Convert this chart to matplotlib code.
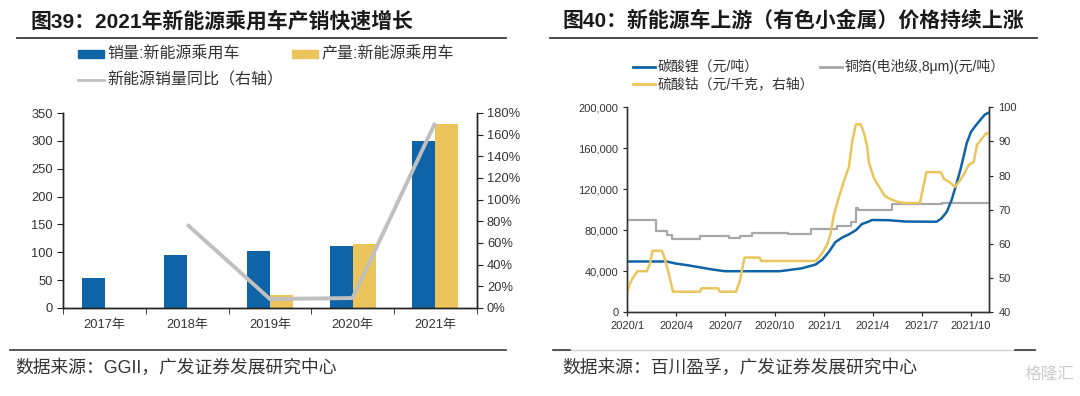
import numpy as np
import pandas as pd
import matplotlib
matplotlib.use('Agg')
import matplotlib.pyplot as plt
import matplotlib.dates as mdates
from matplotlib.lines import Line2D
from matplotlib.patches import Rectangle
from matplotlib.ticker import FuncFormatter, MultipleLocator, FixedLocator

plt.rcParams['font.family'] = ['Liberation Sans', 'Noto Sans CJK SC']

# ---- 图39 数据 ----
years = ['2017年', '2018年', '2019年', '2020年', '2021年']
sales = [54, 95, 102, 112, 300]             # 销量:新能源乘用车
output = [np.nan, np.nan, 24, 115, 331]     # 产量:新能源乘用车
sales_yoy = [np.nan, 77, 8.3, 9.2, 171]     # 新能源销量同比(%)

# ---- 图40 数据 ----
li_dates = ['2020-01-01', '2020-03-14', '2020-03-31', '2020-04-20', '2020-05-15', '2020-06-08',
            '2020-07-01', '2020-10-10', '2020-10-25', '2020-11-20', '2020-12-16', '2020-12-29',
            '2021-01-10', '2021-01-22', '2021-02-04', '2021-02-16', '2021-03-01', '2021-03-12',
            '2021-03-24', '2021-03-31', '2021-05-01', '2021-06-01', '2021-07-29', '2021-08-07',
            '2021-08-17', '2021-08-26', '2021-09-04', '2021-09-11', '2021-09-17', '2021-09-23',
            '2021-10-01', '2021-10-08', '2021-10-18', '2021-10-27', '2021-11-04']
li_price = [49500, 49500, 47500, 46000, 43800, 41600,
            40000, 40000, 41000, 42800, 46500, 51500,
            59000, 68500, 73000, 76000, 80000, 86000,
            88300, 90000, 89800, 88500, 88300, 91500,
            98000, 109500, 125500, 138500, 151500, 165000,
            176000, 181000, 187500, 193000, 195000]

cu_dates = ['2020-01-01', '2020-02-24', '2020-03-14', '2020-03-25', '2020-05-15', '2020-07-09',
            '2020-07-28', '2020-08-19', '2020-10-25', '2020-12-07', '2021-01-25', '2021-02-20',
            '2021-03-01', '2021-03-05', '2021-05-07', '2021-08-08', '2021-11-04']
cu_price = [89800, 79500, 75000, 71000, 74000, 72000,
            74500, 77000, 76000, 81000, 84000, 88500,
            102000, 100000, 105500, 106500, 106500]

co_dates = ['2020-01-01', '2020-01-05', '2020-01-11', '2020-01-20', '2020-02-06', '2020-02-12',
            '2020-02-17', '2020-03-05', '2020-03-09', '2020-03-17', '2020-03-26', '2020-05-15',
            '2020-05-18', '2020-06-18', '2020-06-21', '2020-07-21', '2020-07-28', '2020-08-06',
            '2020-09-03', '2020-09-06', '2020-12-16', '2020-12-22', '2020-12-29', '2021-01-07',
            '2021-01-13', '2021-01-19', '2021-01-28', '2021-02-07', '2021-02-16', '2021-02-22',
            '2021-03-01', '2021-03-10', '2021-03-16', '2021-03-22', '2021-03-25', '2021-04-03',
            '2021-04-12', '2021-04-24', '2021-05-06', '2021-05-18', '2021-05-30', '2021-06-28',
            '2021-07-04', '2021-07-10', '2021-08-06', '2021-08-12', '2021-08-23', '2021-09-01',
            '2021-09-11', '2021-09-20', '2021-09-26', '2021-10-06', '2021-10-12', '2021-10-22',
            '2021-10-30', '2021-11-04']
co_price = [45.8, 48.0, 50.0, 52.0, 52.0, 54.0,
            58.0, 58.0, 56.5, 52.0, 46.0, 46.0,
            47.0, 47.0, 46.0, 46.0, 49.0, 56.0,
            56.0, 55.0, 55.0, 56.0, 57.5, 60.0,
            63.0, 68.5, 73.5, 78.5, 82.5, 90.0,
            95.0, 95.0, 92.5, 88.5, 84.0, 79.5,
            77.0, 74.0, 73.0, 72.3, 72.0, 72.0,
            76.5, 81.0, 81.0, 79.0, 78.0, 76.7,
            78.7, 81.0, 83.0, 84.0, 89.0, 91.0,
            92.5, 92.0]

BLUE = '#0E64A6'
YELLOW = '#EBC55B'
GRAY = '#BFBFBF'
TXT = '#333333'

W, H = 1080, 396
fig = plt.figure(figsize=(W / 100, H / 100), dpi=100)


def fx(x):
    return x / W


def fy(y):
    return 1 - y / H


def hline(x1, x2, y, color, lw):
    fig.add_artist(Line2D([fx(x1), fx(x2)], [fy(y), fy(y)], color=color, lw=lw))


# ---------- 左图 ----------
fig.text(fx(30), fy(21), '图39：2021年新能源乘用车产销快速增长', fontsize=15, weight='bold',
         color='#1a1a1a', va='center', ha='left')
hline(17, 506, 38, '#3a3a3a', 1.3)

fig.add_artist(Rectangle((fx(78), fy(58)), fx(26), 8 / H, color=BLUE))
fig.text(fx(107), fy(54), '销量:新能源乘用车', fontsize=11.5, color=TXT, va='center')
fig.add_artist(Rectangle((fx(292), fy(58)), fx(26), 8 / H, color=YELLOW))
fig.text(fx(321), fy(54), '产量:新能源乘用车', fontsize=11.5, color=TXT, va='center')
hline(78, 104, 80, GRAY, 2)
fig.text(fx(107), fy(80), '新能源销量同比（右轴）', fontsize=11.5, color=TXT, va='center')

ax1 = fig.add_axes([fx(63.3), fy(308), fx(476.5 - 63.3), (308 - 113) / H])
x = np.arange(len(years))
bw = 0.278
ax1.bar(x - bw / 2, sales, bw, color=BLUE)
ax1.bar(x + bw / 2, output, bw, color=YELLOW)
ax1.set_xlim(-0.5, len(years) - 0.5)
ax1.set_ylim(0, 350)
ax1.yaxis.set_major_locator(MultipleLocator(50))
ax1.set_xticks(x)
ax1.set_xticklabels(years)
ax1.xaxis.set_minor_locator(FixedLocator(np.arange(-0.5, len(years), 1)))
ax1.tick_params(axis='x', which='major', length=0, pad=8, labelsize=9.3, colors=TXT)
ax1.tick_params(axis='x', which='minor', length=4, direction='out', color='#222222')
ax1.tick_params(axis='y', length=4, labelsize=9.3, colors=TXT, color='#222222')
ax1.spines['top'].set_visible(False)

ax1b = ax1.twinx()
ax1b.plot(x, sales_yoy, color=GRAY, lw=2.8, solid_capstyle='butt')
ax1b.set_ylim(0, 180)
ax1b.yaxis.set_major_locator(MultipleLocator(20))
ax1b.yaxis.set_major_formatter(FuncFormatter(lambda v, p: f'{v:.0f}%'))
ax1b.tick_params(axis='y', length=4, labelsize=9.3, colors=TXT, color='#222222')
ax1b.spines['top'].set_visible(False)
for a in (ax1, ax1b):
    for s in ('left', 'right', 'bottom'):
        a.spines[s].set_color('#222222')
        a.spines[s].set_linewidth(1)

# ---------- 右图 ----------
fig.text(fx(562), fy(21), '图40：新能源车上游（有色小金属）价格持续上涨', fontsize=15, weight='bold',
         color='#1a1a1a', va='center', ha='left')
hline(550, 1037, 38, '#3a3a3a', 1.3)

hline(633, 655, 67, BLUE, 2)
fig.text(fx(658), fy(67), '碳酸锂（元/吨）', fontsize=10, color=TXT, va='center')
hline(820, 842, 67, '#A8A8A8', 2)
fig.text(fx(845), fy(67), '铜箔(电池级,8μm)(元/吨）', fontsize=10, color=TXT, va='center')
hline(633, 655, 84, YELLOW, 2)
fig.text(fx(658), fy(84), '硫酸钴（元/千克，右轴）', fontsize=10, color=TXT, va='center')

ax2 = fig.add_axes([fx(627.3), fy(312.2), fx(989.3 - 627.3), (312.2 - 107.3) / H])
ax2.step(pd.to_datetime(cu_dates), cu_price, where='post', color='#A8A8A8', lw=1.6)
ax2.plot(pd.to_datetime(li_dates), li_price, color=BLUE, lw=1.8)
ax2.set_ylim(0, 200000)
ax2.set_xlim(pd.Timestamp('2020-01-01'), pd.Timestamp('2021-11-04'))
ax2.yaxis.set_major_locator(MultipleLocator(40000))
ax2.yaxis.set_major_formatter(FuncFormatter(lambda v, p: f'{v:,.0f}'))
ax2.xaxis.set_major_locator(mdates.MonthLocator(bymonth=[1, 4, 7, 10]))
ax2.xaxis.set_major_formatter(FuncFormatter(lambda v, p: f'{mdates.num2date(v).year}/{mdates.num2date(v).month}'))
ax2.tick_params(axis='both', length=3, labelsize=8, colors=TXT, color='#222222')
ax2.spines['top'].set_visible(False)

ax2b = ax2.twinx()
ax2b.plot(pd.to_datetime(co_dates), co_price, color=YELLOW, lw=1.8)
ax2b.set_ylim(40, 100)
ax2b.yaxis.set_major_locator(MultipleLocator(10))
ax2b.tick_params(axis='y', length=3, labelsize=8, colors=TXT, color='#222222')
ax2b.spines['top'].set_visible(False)
for a in (ax2, ax2b):
    for s in ('left', 'right', 'bottom'):
        a.spines[s].set_color('#333333')
        a.spines[s].set_linewidth(1)

# ---------- 底部来源 ----------
hline(10, 506, 350, '#3a3a3a', 1.2)
hline(553, 1035, 350, '#cfcfcf', 1.0)
hline(553, 570, 350, '#3a3a3a', 1.2)
hline(1015, 1035, 350, '#3a3a3a', 1.2)
fig.text(fx(15), fy(368), '数据来源：GGII，广发证券发展研究中心', fontsize=12.8, color=TXT, va='center')
fig.text(fx(562), fy(368), '数据来源：百川盈孚，广发证券发展研究中心', fontsize=12.8, color=TXT, va='center')
fig.text(fx(1074), fy(374), '格隆汇', fontsize=12, color='#cccccc', va='center', ha='right')

fig.savefig('out.png', dpi=100)
